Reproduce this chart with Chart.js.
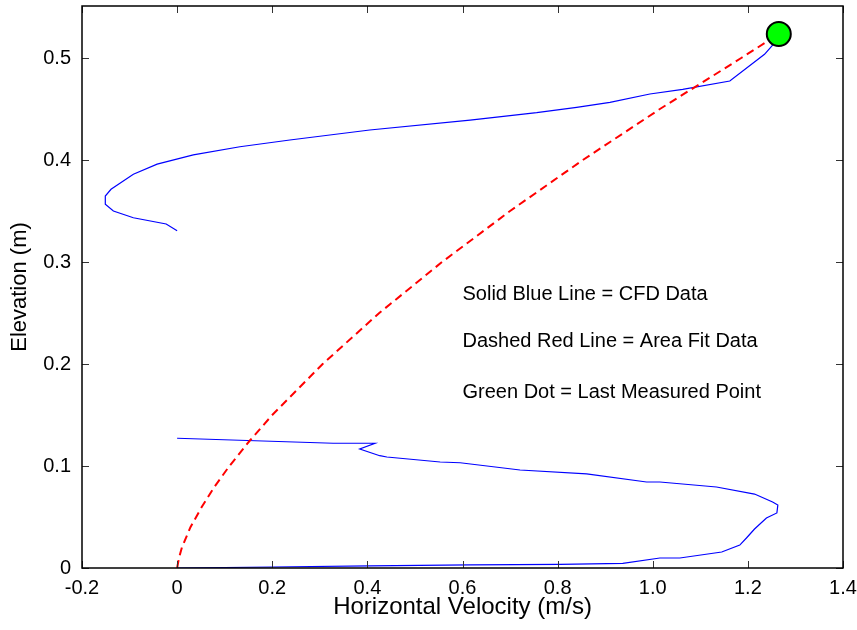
<!DOCTYPE html>
<html>
<head>
<meta charset="utf-8">
<script src="https://cdn.jsdelivr.net/npm/chart.js@4.4.1/dist/chart.umd.min.js"></script>
<style>
  html, body { margin: 0; padding: 0; background: #fff; }
</style>
</head>
<body>
<canvas id="chart" width="857" height="630"></canvas>
<script>
// CFD velocity profile, lower part (starts at the bed)
const cfdLowerVel = [0, 0.2, 0.405, 0.616, 0.805, 0.937, 1.015, 1.057, 1.145, 1.183, 1.197, 1.214, 1.239, 1.261, 1.263, 1.252, 1.214, 1.134, 1.015, 0.987, 0.861, 0.721, 0.595, 0.553, 0.441, 0.426, 0.384, 0.416, 0.328, 0];
const cfdLowerElev = [0, 0.001, 0.002, 0.003, 0.0035, 0.0046, 0.0098, 0.0098, 0.0157, 0.0225, 0.0294, 0.0382, 0.049, 0.054, 0.0618, 0.0647, 0.0725, 0.0794, 0.0843, 0.0843, 0.0922, 0.0961, 0.1032, 0.1039, 0.1088, 0.1101, 0.1167, 0.1223, 0.1223, 0.1272];

// CFD velocity profile, upper part (ends at the last measured point)
const cfdUpperVel = [0, -0.023, -0.092, -0.134, -0.151, -0.151, -0.139, -0.092, -0.042, 0.034, 0.132, 0.237, 0.405, 0.616, 0.756, 0.84, 0.91, 0.994, 1.063, 1.162, 1.235, 1.252, 1.265];
const cfdUpperElev = [0.3307, 0.3373, 0.3434, 0.35, 0.3566, 0.3647, 0.3713, 0.386, 0.396, 0.405, 0.413, 0.4196, 0.4294, 0.4392, 0.4464, 0.4517, 0.4566, 0.4647, 0.4693, 0.4775, 0.5036, 0.5127, 0.5235];

// area fit curve
const fitVel = [0, 0.004, 0.010, 0.028, 0.052, 0.079, 0.110, 0.153, 0.200, 0.306, 0.425, 0.557, 0.700, 0.853, 1.015, 1.186, 1.265];
const fitElev = [0, 0.01, 0.02, 0.04, 0.06, 0.08, 0.1, 0.125, 0.15, 0.2, 0.25, 0.3, 0.35, 0.4, 0.45, 0.5, 0.5235];

// last measured point
const lastVel = [1.265];
const lastElev = [0.5235];

// tick labels
const xTickValues = [-0.2, 0, 0.2, 0.4, 0.6, 0.8, 1, 1.2, 1.4];
const yTickValues = [0, 0.1, 0.2, 0.3, 0.4, 0.5];

// text notes (placed in data coordinates)
const noteLines = ['Solid Blue Line = CFD Data', 'Dashed Red Line = Area Fit Data', 'Green Dot = Last Measured Point'];
const noteVel = [0.6, 0.6, 0.6];
const noteElev = [0.268, 0.222, 0.172];

const FONT = '"Liberation Sans", Arial, Helvetica, sans-serif';

const toPoints = (xs, ys) => xs.map((x, i) => ({ x: x, y: ys[i] }));

// MATLAB-style box with inward ticks on all four sides
const boxFrame = {
  id: 'boxFrame',
  afterDatasetsDraw(chart) {
    const { ctx, chartArea: a, scales: { x, y } } = chart;
    const len = 7;
    ctx.save();
    ctx.strokeStyle = '#333';
    ctx.lineWidth = 1;
    ctx.beginPath();
    xTickValues.forEach(v => {
      const px = Math.round(x.getPixelForValue(v)) + 0.5;
      ctx.moveTo(px, a.bottom); ctx.lineTo(px, a.bottom - len);
      ctx.moveTo(px, a.top); ctx.lineTo(px, a.top + len);
    });
    yTickValues.forEach(v => {
      const py = Math.round(y.getPixelForValue(v)) + 0.5;
      ctx.moveTo(a.left, py); ctx.lineTo(a.left + len, py);
      ctx.moveTo(a.right, py); ctx.lineTo(a.right - len, py);
    });
    ctx.stroke();
    ctx.strokeStyle = '#000';
    ctx.lineWidth = 1.5;
    ctx.strokeRect(a.left, a.top, a.right - a.left, a.bottom - a.top);
    ctx.restore();
  },
  afterDraw(chart) {
    const { ctx, scales: { x, y } } = chart;
    ctx.save();
    ctx.fillStyle = '#000';
    ctx.font = '20px ' + FONT;
    ctx.textAlign = 'left';
    ctx.textBaseline = 'middle';
    noteLines.forEach((t, i) => {
      ctx.fillText(t, x.getPixelForValue(noteVel[i]), y.getPixelForValue(noteElev[i]));
    });
    ctx.restore();
  }
};

new Chart(document.getElementById('chart'), {
  type: 'scatter',
  data: {
    datasets: [
      {
        label: 'Last Measured Point',
        data: toPoints(lastVel, lastElev),
        pointRadius: 12,
        pointBackgroundColor: '#00ff00',
        pointBorderColor: '#000',
        pointBorderWidth: 2
      },
      {
        label: 'Area Fit Data',
        data: toPoints(fitVel, fitElev),
        showLine: true,
        borderColor: '#ff0000',
        borderWidth: 2,
        borderDash: [8, 5],
        pointRadius: 0
      },
      {
        label: 'CFD Data (lower)',
        data: toPoints(cfdLowerVel, cfdLowerElev),
        showLine: true,
        borderColor: '#0000ff',
        borderWidth: 1.2,
        pointRadius: 0
      },
      {
        label: 'CFD Data (upper)',
        data: toPoints(cfdUpperVel, cfdUpperElev),
        showLine: true,
        borderColor: '#0000ff',
        borderWidth: 1.2,
        pointRadius: 0
      }
    ]
  },
  options: {
    responsive: false,
    animation: false,
    layout: { autoPadding: false, padding: { top: 6, right: 14, left: 0, bottom: 0 } },
    plugins: {
      legend: { display: false },
      tooltip: { enabled: false }
    },
    scales: {
      x: {
        type: 'linear',
        min: -0.2,
        max: 1.4,
        grid: { display: false, drawTicks: false },
        border: { display: false },
        afterBuildTicks: s => { s.ticks = xTickValues.map(v => ({ value: v })); },
        afterFit: s => { s.height = 62; s.paddingLeft = 0; s.paddingRight = 0; },
        ticks: { color: '#000', padding: 8, maxRotation: 0, font: { family: FONT, size: 20 } },
        title: {
          display: true,
          text: 'Horizontal Velocity (m/s)',
          color: '#000',
          font: { family: FONT, size: 24 },
          padding: { top: 0, bottom: 8 }
        }
      },
      y: {
        type: 'linear',
        min: 0,
        max: 0.551,
        grid: { display: false, drawTicks: false },
        border: { display: false },
        afterBuildTicks: s => { s.ticks = yTickValues.map(v => ({ value: v })); },
        afterFit: s => { s.width = 82; s.paddingTop = 0; s.paddingBottom = 0; },
        ticks: { color: '#000', padding: 11, font: { family: FONT, size: 20 } },
        title: {
          display: true,
          text: 'Elevation (m)',
          color: '#000',
          font: { family: FONT, size: 22 },
          padding: { top: 7, bottom: 0 }
        }
      }
    }
  },
  plugins: [boxFrame]
});
</script>
</body>
</html>
